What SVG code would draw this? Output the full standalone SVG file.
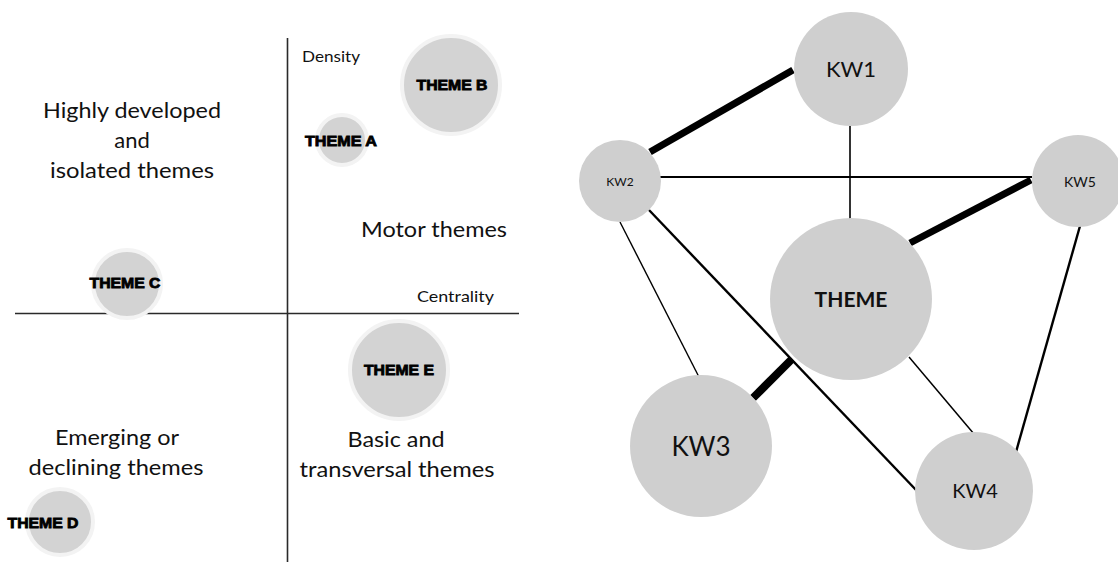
<svg xmlns="http://www.w3.org/2000/svg" width="1118" height="562" viewBox="0 0 1118 562">
  <style>
    .axis { stroke: #2a2a2a; stroke-width: 1.6; fill: none; }
    .bubble { fill: #d3d3d3; stroke: #f3f3f3; stroke-width: 4; }
    .node { fill: #cfcfcf; }
    .tag { font-family: "Liberation Sans", Arial, sans-serif; font-weight: bold; font-size: 14px; fill: #000; stroke: #000; stroke-width: 0.8; text-anchor: middle; }
    .quad { font-family: Lato, "Open Sans", sans-serif; font-size: 22px; fill: #111; text-anchor: middle; }
    .axlabel { font-family: Lato, "Open Sans", sans-serif; font-size: 15px; fill: #111; }
    .kw { font-family: Lato, "Open Sans", sans-serif; fill: #111; text-anchor: middle; }
    .edge { stroke: #000; fill: none; }
  </style>
  <rect width="1118" height="562" fill="#fff"/>

  <!-- strategic diagram: axes -->
  <g id="axes">
    <line class="axis" x1="287.5" y1="38" x2="287.5" y2="562"/>
    <line class="axis" x1="15" y1="313.5" x2="519" y2="313.5"/>
    <text class="axlabel" x="302" y="62" textLength="58" lengthAdjust="spacingAndGlyphs">Density</text>
    <text class="axlabel" x="417" y="302" textLength="77" lengthAdjust="spacingAndGlyphs">Centrality</text>
  </g>

  <!-- quadrant captions -->
  <g id="quadrant-labels">
    <text class="quad" x="132" y="118" textLength="178" lengthAdjust="spacingAndGlyphs">Highly developed</text>
    <text class="quad" x="132" y="148">and</text>
    <text class="quad" x="132" y="178" textLength="164" lengthAdjust="spacingAndGlyphs">isolated themes</text>
    <text class="quad" x="434" y="237" textLength="146" lengthAdjust="spacingAndGlyphs">Motor themes</text>
    <text class="quad" x="117" y="445" textLength="124" lengthAdjust="spacingAndGlyphs">Emerging or</text>
    <text class="quad" x="116" y="475" textLength="175" lengthAdjust="spacingAndGlyphs">declining themes</text>
    <text class="quad" x="396" y="447" textLength="97" lengthAdjust="spacingAndGlyphs">Basic and</text>
    <text class="quad" x="397" y="477" textLength="195" lengthAdjust="spacingAndGlyphs">transversal themes</text>
  </g>

  <!-- theme bubbles -->
  <g id="theme-b">
    <circle class="bubble" cx="451" cy="85" r="49"/>
    <text class="tag" x="452" y="90" textLength="71" lengthAdjust="spacingAndGlyphs">THEME B</text>
  </g>
  <g id="theme-a">
    <circle class="bubble" cx="342" cy="140" r="25"/>
    <text class="tag" x="341" y="146" textLength="72" lengthAdjust="spacingAndGlyphs">THEME A</text>
  </g>
  <g id="theme-c">
    <circle class="bubble" cx="127" cy="284" r="34"/>
    <text class="tag" x="125" y="288" textLength="71" lengthAdjust="spacingAndGlyphs">THEME C</text>
  </g>
  <g id="theme-e">
    <circle class="bubble" cx="399" cy="370" r="49"/>
    <text class="tag" x="399" y="375" textLength="70" lengthAdjust="spacingAndGlyphs">THEME E</text>
  </g>
  <g id="theme-d">
    <circle class="bubble" cx="60" cy="522" r="33"/>
    <text class="tag" x="43" y="528" textLength="71" lengthAdjust="spacingAndGlyphs">THEME D</text>
  </g>

  <!-- keyword network: links -->
  <g id="links">
    <line class="edge" stroke-width="7" x1="793" y1="70" x2="650" y2="152"/>
    <line class="edge" stroke-width="1.6" x1="850" y1="126" x2="850" y2="219"/>
    <line class="edge" stroke-width="2" x1="660" y1="177" x2="1032" y2="177"/>
    <line class="edge" stroke-width="7" x1="1031" y1="180" x2="910" y2="243"/>
    <line class="edge" stroke-width="1.4" x1="620" y1="222" x2="700" y2="379"/>
    <line class="edge" stroke-width="2.4" x1="649" y1="210" x2="917" y2="491"/>
    <line class="edge" stroke-width="8" x1="792" y1="359" x2="753" y2="398"/>
    <line class="edge" stroke-width="1.5" x1="909" y1="357" x2="974" y2="434"/>
    <line class="edge" stroke-width="2.4" x1="1080" y1="226" x2="1016" y2="452"/>
  </g>

  <!-- keyword network: nodes -->
  <g id="kw1">
    <circle class="node" cx="851" cy="69" r="57"/>
    <text class="kw" x="851" y="77" font-size="22">KW1</text>
  </g>
  <g id="kw2">
    <circle class="node" cx="620" cy="181" r="41"/>
    <text class="kw" x="620" y="186" font-size="12">KW2</text>
  </g>
  <g id="kw5">
    <circle class="node" cx="1078" cy="181" r="46"/>
    <text class="kw" x="1080" y="187" font-size="14">KW5</text>
  </g>
  <g id="theme">
    <circle class="node" cx="851" cy="299" r="81"/>
    <text class="kw" x="851" y="307" font-size="21" font-weight="bold">THEME</text>
  </g>
  <g id="kw3">
    <circle class="node" cx="701" cy="446" r="71"/>
    <text class="kw" x="701" y="456" font-size="26">KW3</text>
  </g>
  <g id="kw4">
    <circle class="node" cx="974" cy="491" r="59"/>
    <text class="kw" x="975" y="498" font-size="20">KW4</text>
  </g>
</svg>
